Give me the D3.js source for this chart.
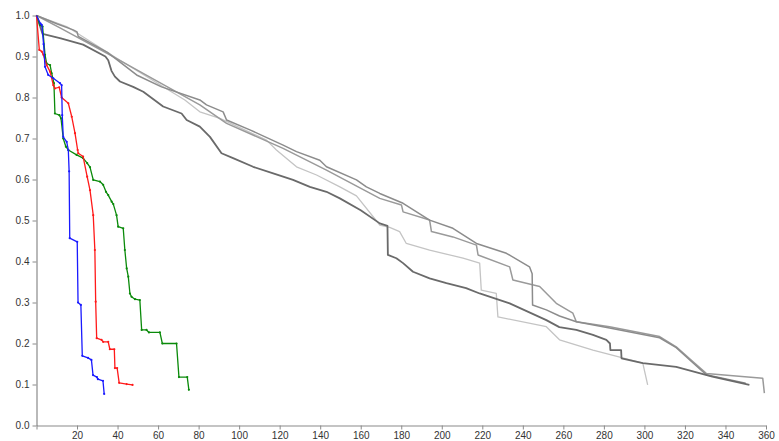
<!DOCTYPE html>
<html><head><meta charset="utf-8">
<script src="https://cdn.jsdelivr.net/npm/d3@7"></script>
<style>
html,body{margin:0;padding:0;background:#fff;}
svg{display:block;font-family:"Liberation Sans",Arial,sans-serif;}
</style></head>
<body>
<svg id="chart" width="779" height="441"></svg>
<script>
const xTicks = [0,20,40,60,80,100,120,140,160,180,200,220,240,260,280,300,320,340,360];
const yTicks = [0,0.1,0.2,0.3,0.4,0.5,0.6,0.7,0.8,0.9,1.0];

const grayDark = [[0,1],[1,0.985],[3,0.955],[12,0.944],[23,0.929],[34,0.9],[35.4,0.891],[37,0.865],[38.7,0.851],[41.2,0.839],[47.7,0.826],[52.7,0.814],[62.5,0.778],[71.6,0.761],[74.1,0.745],[80.6,0.729],[85.6,0.704],[91.3,0.664],[97,0.652],[106.9,0.631],[116.8,0.615],[126.6,0.599],[134.9,0.582],[143.1,0.57],[149.7,0.554],[160,0.525],[169.4,0.493],[173.2,0.487],[173.4,0.416],[177.6,0.408],[180.9,0.396],[185.8,0.375],[194,0.359],[202.3,0.347],[212,0.335],[218.7,0.322],[233.5,0.298],[251.6,0.257],[258,0.24],[266.4,0.233],[274.6,0.221],[281.2,0.209],[283,0.2],[283.2,0.184],[288.5,0.184],[288.7,0.164],[299.2,0.152],[315.7,0.143],[333.5,0.119],[351.8,0.099]];
const grayA = [[0,1],[10,0.98],[18.1,0.965],[20,0.96],[20.6,0.949],[35,0.91],[49.4,0.855],[61.7,0.826],[80.6,0.794],[83.9,0.782],[92.1,0.765],[93.8,0.745],[105.3,0.721],[121.7,0.684],[128.3,0.668],[139.8,0.647],[143.1,0.631],[157.9,0.599],[162.8,0.582],[169.4,0.566],[180.9,0.542],[194,0.501],[205.5,0.481],[217.1,0.444],[231.9,0.42],[243.3,0.387],[244.6,0.37],[244.8,0.294],[251.6,0.282],[258.1,0.267],[266.4,0.253],[282.8,0.238],[307.5,0.214],[315.7,0.19],[323.9,0.153],[330.5,0.124],[350,0.103]];
const grayB = [[0,1],[11.6,0.97],[36.2,0.904],[80.6,0.782],[93.8,0.737],[121.7,0.676],[143.1,0.623],[169.4,0.554],[180.1,0.538],[180.9,0.521],[194,0.501],[194.9,0.473],[205.5,0.46],[217.1,0.44],[217.9,0.416],[233.5,0.387],[235.1,0.355],[248.3,0.339],[256.5,0.298],[264.7,0.274],[266.4,0.253],[282.8,0.241],[307.5,0.217],[315.7,0.192],[323.9,0.156],[330.5,0.127],[358.4,0.115],[359.2,0.079]];
const grayC = [[0,1],[14.9,0.973],[41.2,0.891],[73.2,0.794],[80.6,0.765],[90.5,0.749],[113.5,0.696],[118.4,0.672],[128.3,0.631],[138.2,0.611],[149.7,0.582],[157.9,0.56],[169.4,0.489],[174.3,0.483],[179.2,0.473],[182.5,0.444],[194,0.428],[210.5,0.408],[218.7,0.396],[219.5,0.33],[226.9,0.322],[227.7,0.265],[251.6,0.241],[258.1,0.209],[274.6,0.184],[299.2,0.152],[301.6,0.099]];

const blueSeries = [[0,1],[2,0.98],[2.6,0.977],[3.5,0.93],[4.2,0.875],[5.8,0.855],[8.3,0.847],[11.6,0.835],[12.4,0.83],[12.7,0.757],[13.2,0.704],[14.9,0.692],[15.7,0.672],[16.1,0.62],[16.4,0.457],[20.1,0.448],[20.5,0.30],[21.9,0.294],[22.6,0.17],[25.4,0.165],[27.1,0.16],[27.9,0.123],[29.8,0.118],[30.3,0.113],[32.8,0.109],[33.4,0.077]];
const redSeries = [[0,1],[1.4,0.916],[2.6,0.912],[3.4,0.904],[5,0.879],[6.7,0.863],[8.3,0.83],[9.1,0.822],[11.2,0.825],[12.4,0.80],[15.7,0.786],[17.4,0.753],[19,0.713],[20.3,0.672],[20.6,0.664],[23,0.656],[25,0.607],[26.4,0.574],[28,0.513],[28.8,0.428],[29.2,0.302],[29.7,0.213],[32.1,0.209],[32.9,0.204],[35.4,0.204],[36.2,0.186],[38.4,0.186],[38.7,0.14],[39.8,0.14],[40.8,0.104],[44.5,0.101],[47.4,0.099]];
const greenSeries = [[0,1],[1.7,0.977],[3,0.973],[4.2,0.904],[5,0.883],[6.7,0.879],[7.5,0.859],[8.6,0.835],[9.1,0.761],[11.3,0.757],[12.1,0.749],[13.2,0.70],[14.5,0.68],[15.7,0.672],[19.8,0.66],[23,0.652],[25,0.64],[26.4,0.63],[28,0.599],[31.3,0.595],[32.9,0.587],[34.3,0.57],[35.4,0.562],[37.1,0.546],[37.9,0.54],[39.5,0.513],[40.3,0.485],[42.8,0.481],[43.6,0.428],[44.5,0.383],[45.3,0.363],[46.1,0.322],[46.9,0.314],[48.6,0.308],[51,0.306],[51.9,0.233],[54.3,0.233],[55.5,0.227],[60.9,0.227],[62.1,0.20],[69.1,0.20],[70.3,0.118],[74.4,0.118],[75.2,0.087]];

const svg = d3.select("#chart");
const x = d3.scaleLinear().domain([0,360]).range([36.5,766]);
const y = d3.scaleLinear().domain([0,1]).range([425.5,15.5]);

const xAxis = svg.append("g").attr("transform","translate(0,425.5)")
  .call(d3.axisBottom(x).tickValues(xTicks).tickSize(4).tickSizeOuter(0).tickFormat(d => d === 0 ? "" : d3.format("d")(d)));
const yAxis = svg.append("g").attr("transform","translate(36.5,0)")
  .call(d3.axisLeft(y).tickValues(yTicks).tickSize(4).tickSizeOuter(0).tickFormat(d3.format(".1f")));
[xAxis,yAxis].forEach(g=>{
  g.select(".domain").attr("stroke","#8a8a8a").attr("stroke-width",1.2);
  g.selectAll(".tick line").attr("stroke","#8a8a8a");
  g.selectAll(".tick text").attr("fill","#333").attr("font-size","10px").attr("font-family","Liberation Sans, Arial, sans-serif");
});
xAxis.selectAll(".tick text").attr("y",6);

const line = d3.line().x(d=>x(d[0])).y(d=>y(d[1]));
const series = [
  {data: grayC, color:"#c4c4c4", w:1.3},
  {data: grayB, color:"#9a9a9a", w:1.5},
  {data: grayA, color:"#8c8c8c", w:1.5},
  {data: grayDark, color:"#6a6a6a", w:1.8},
  {data: greenSeries, color:"#0a8a0a", w:1.3, dots:true},
  {data: redSeries, color:"#ff1a1a", w:1.3, dots:true},
  {data: blueSeries, color:"#1a1aff", w:1.3, dots:true}
];
series.forEach(s=>{
  svg.append("path").datum(s.data).attr("d",line).attr("fill","none")
    .attr("stroke",s.color).attr("stroke-width",s.w).attr("stroke-linejoin","round");
  if(s.dots){
    svg.append("g").selectAll("circle").data(s.data.slice(1)).join("circle")
      .attr("cx",d=>x(d[0])).attr("cy",d=>y(d[1])).attr("r",1.1).attr("fill",s.color);
  }
});
</script>
</body></html>
